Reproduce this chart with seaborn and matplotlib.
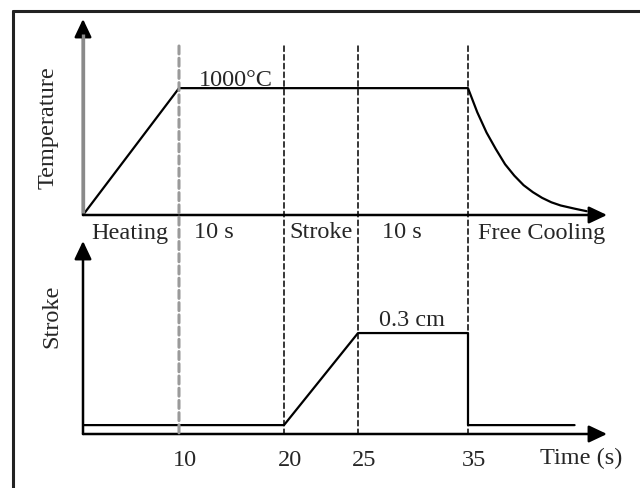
import numpy as np
import matplotlib
matplotlib.use("Agg")
import matplotlib.pyplot as plt
from matplotlib.lines import Line2D
from matplotlib.patches import ConnectionPatch
import matplotlib.transforms as mtransforms
import seaborn as sns

# ---------------- data ----------------
temp_time = [0, 10, 35, 36, 37, 38, 39, 40, 41, 42, 43, 44, 45, 46.5, 47.8]
temp_vals = [0, 1000, 1000, 810, 650, 520, 400, 310, 235, 180, 135, 100, 75, 50, 30]

stroke_time = [0, 20, 25, 35, 35, 46.5]
stroke_vals = [0, 0, 0.3, 0.3, 0, 0]

phase_times = [10, 20, 25, 35]
tick_labels = ["10", "20", "25", "35"]
phase_labels = ["Heating", "10 s", "Stroke", "10 s", "Free Cooling"]
temp_label = "1000°C"
stroke_label = "0.3 cm"

# ---------------- layout (schematic, non-linear time axis) ----------------
W, H = 640, 489
knot_t = [-100, 0, 10, 20, 25, 35, 50, 200]
knot_p = [-960, 0, 96, 201, 275, 385, 524, 1914]


def fwd(t):
    return np.interp(t, knot_t, knot_p)


def inv(p):
    return np.interp(p, knot_p, knot_t)


sns.set_theme(style="white")
plt.rcParams["font.family"] = ["Liberation Serif", "DejaVu Serif"]
FS = 17.5

fig = plt.figure(figsize=(6.4, 4.89), dpi=100)


def fx(px):
    return px / W


def fy(py):
    return 1 - py / H


ax_t = fig.add_axes([fx(83), fy(216), fx(607) - fx(83), fy(20) - fy(216)])
ax_b = fig.add_axes([fx(83), fy(435), fx(607) - fx(83), fy(242) - fy(435)])

for ax in (ax_t, ax_b):
    ax.set_xscale("function", functions=(fwd, inv))
    ax.set_xlim(0, 50)
    for s in ax.spines.values():
        s.set_visible(False)
    ax.set_facecolor("none")

ax_t.set_ylim(0, 1545)
ax_b.set_ylim(-0.029, 0.6)

sns.lineplot(x=temp_time, y=temp_vals, ax=ax_t, color="black", lw=1.6,
             sort=False, estimator=None)
sns.lineplot(x=stroke_time, y=stroke_vals, ax=ax_b, color="black", lw=1.6,
             sort=False, estimator=None)
for ax in (ax_t, ax_b):
    ax.set_xlabel("")
    ax.set_ylabel("")
    ax.set_yticks([])

ax_t.set_xticks([])
ax_b.set_xticks(phase_times)
ax_b.set_xticklabels(tick_labels, fontsize=FS)
ax_b.tick_params(axis="x", length=0, pad=11)
off = mtransforms.ScaledTranslation(6 / 100, 0, fig.dpi_scale_trans)
for lab in ax_b.get_xticklabels():
    lab.set_transform(lab.get_transform() + off)

# axis arrows
arrow_style = "-|>,head_length=0.55,head_width=0.26"
for ax, ycol in ((ax_t, "#8a8a8a"), (ax_b, "black")):
    ax.annotate("", xy=(1, 0), xytext=(0, 0), xycoords="axes fraction",
                arrowprops=dict(arrowstyle=arrow_style, mutation_scale=20,
                                lw=1.8, color="black", shrinkA=0, shrinkB=0),
                annotation_clip=False)
    ax.annotate("", xy=(0, 1), xytext=(0, 0), xycoords="axes fraction",
                arrowprops=dict(arrowstyle=arrow_style, mutation_scale=20,
                                lw=1.8, color="black", shrinkA=0, shrinkB=0),
                annotation_clip=False)
    if ycol != "black":
        ax.plot([0, 0], [0.01, 0.925], transform=ax.transAxes, color=ycol,
                lw=2.4, clip_on=False, solid_capstyle="butt", zorder=10)

# dashed phase lines spanning both panels
top_frac = (216 - 47) / (216 - 20)
for i, t in enumerate(phase_times):
    gray = (i == 0)
    con = ConnectionPatch(xyA=(t, top_frac), coordsA=ax_t.get_xaxis_transform(),
                          xyB=(t, 0), coordsB=ax_b.get_xaxis_transform(),
                          linestyle=(0, (3.5, 2.2)) if not gray else (0, (2.6, 1.4)),
                          color="#9a9a9a" if gray else "black",
                          lw=2.2 if gray else 1.1, zorder=1)
    fig.add_artist(con)

# texts
fig.text(fx(236), fy(80), temp_label, fontsize=FS, ha="center", va="center")
fig.text(fx(412), fy(320), stroke_label, fontsize=FS, ha="center", va="center")
for lab, px in zip(phase_labels, [130, 214, 321, 402, 542]):
    fig.text(fx(px), fy(233), lab, fontsize=FS, ha="center", va="center")
fig.text(fx(581), fy(458), "Time (s)", fontsize=FS, ha="center", va="center")
fig.text(fx(48), fy(128), "Temperature", fontsize=FS, ha="center", va="center",
         rotation=90)
fig.text(fx(52), fy(316), "Stroke", fontsize=FS, ha="center", va="center",
         rotation=90)

# outer frame (top and left edges visible)
fig.add_artist(Line2D([fx(13), 1.0], [fy(11.5), fy(11.5)], color="#222222",
                      lw=2.2, transform=fig.transFigure))
fig.add_artist(Line2D([fx(13), fx(13)], [fy(11.5), 0.0], color="#222222",
                      lw=2.2, transform=fig.transFigure))

fig.savefig("out.png", dpi=100)
